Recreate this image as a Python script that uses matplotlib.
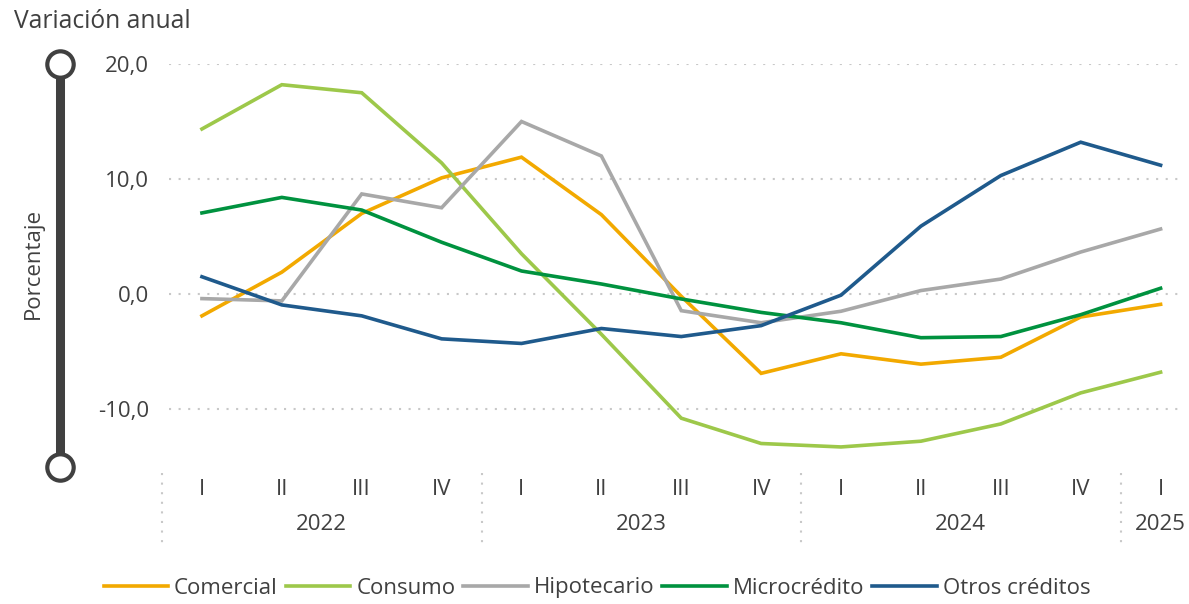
import matplotlib
matplotlib.use('Agg')
import matplotlib.pyplot as plt
from matplotlib.transforms import blended_transform_factory
from matplotlib.lines import Line2D

quarters = ['I', 'II', 'III', 'IV', 'I', 'II', 'III', 'IV', 'I', 'II', 'III', 'IV', 'I']
years = ['2022', '2023', '2024', '2025']
year_counts = [4, 4, 4, 1]

comercial = [-1.9, 1.9, 7.0, 10.1, 11.9, 6.9, -0.2, -6.9, -5.2, -6.1, -5.5, -2.0, -0.9]
consumo = [14.35, 18.2, 17.5, 11.4, 3.5, -3.5, -10.8, -13.0, -13.3, -12.8, -11.3, -8.6, -6.8]
hipotecario = [-0.4, -0.6, 8.7, 7.5, 15.0, 12.0, -1.45, -2.5, -1.5, 0.3, 1.3, 3.65, 5.65]
microcredito = [7.05, 8.4, 7.3, 4.5, 2.0, 0.87, -0.43, -1.6, -2.5, -3.8, -3.7, -1.8, 0.5]
otros = [1.5, -0.95, -1.9, -3.9, -4.3, -3.0, -3.7, -2.75, -0.1, 5.9, 10.3, 13.2, 11.2]

series_names = ['Comercial', 'Consumo', 'Hipotecario', 'Microcrédito', 'Otros créditos']
series_values = [comercial, consumo, hipotecario, microcredito, otros]
series_colors = ['#F2A900', '#9DC84A', '#A8A8A8', '#00923F', '#1F5A8C']

yticks = [20, 10, 0, -10]

TXT = '#404040'
plt.rcParams['font.family'] = ['Open Sans', 'DejaVu Sans']

W, H = 1189, 604
fig = plt.figure(figsize=(W / 100, H / 100), dpi=100)
ax_left, ax_right = 162, 1180
ax_top, ax_bottom = 64, 466.5
ax = fig.add_axes([ax_left / W, 1 - ax_bottom / H, (ax_right - ax_left) / W, (ax_bottom - ax_top) / H])

n = len(quarters)
x = list(range(n))
ax.set_xlim(-0.5, 12.243)
ax.set_ylim(-15, 20)

for yv in yticks:
    ax.axhline(yv, xmin=0.007, xmax=1, color='#C8C8C8', lw=1.5, ls=(0, (1, 3.6)), zorder=1)

for name, vals, col in zip(series_names, series_values, series_colors):
    ax.plot(x, vals, color=col, lw=2.6, label=name, solid_joinstyle='miter', zorder=3)

for s in ax.spines.values():
    s.set_visible(False)

ax.set_yticks(yticks)
ax.set_yticklabels([f'{v:.1f}'.replace('.', ',') for v in yticks])
ax.tick_params(axis='y', length=0, pad=9.5, labelsize=16, labelcolor=TXT)
ax.set_xticks(x)
ax.set_xticklabels(quarters)
ax.tick_params(axis='x', length=0, pad=9, labelsize=16, labelcolor=TXT)

# year labels and separators
trans = blended_transform_factory(ax.transData, ax.transAxes)
start = 0
sep_top = -(473 - ax_bottom) / (ax_bottom - ax_top)
sep_bot = -(545 - ax_bottom) / (ax_bottom - ax_top)
year_y = -(524.5 - ax_bottom) / (ax_bottom - ax_top)
for yr, cnt in zip(years, year_counts):
    ax.plot([start - 0.5, start - 0.5], [sep_top, sep_bot], transform=trans, clip_on=False,
            color='#C8C8C8', lw=1.5, ls=(0, (1, 3.6)))
    ax.text(start + (cnt - 1) / 2, year_y, yr, transform=trans, ha='center', va='center',
            fontsize=16, color=TXT)
    start += cnt

# decorative vertical axis bar
btrans = blended_transform_factory(fig.transFigure, ax.transData)
bx = 60 / W
ax.plot([bx, bx], [20, -15], transform=btrans, clip_on=False, color='#404040', lw=6.5,
        solid_capstyle='butt', zorder=4)
ax.plot([bx, bx], [20, -15], transform=btrans, clip_on=False, ls='none', marker='o',
        markersize=19, markerfacecolor='white', markeredgecolor='#404040', markeredgewidth=3,
        zorder=5)

fig.text(14 / W, 1 - 21 / H, 'Variación anual', ha='left', va='center', fontsize=17.7, color=TXT)
fig.text(33 / W, 1 - 263 / H, 'Porcentaje', ha='center', va='center', rotation=90,
         fontsize=16, color=TXT)

handles = [Line2D([0], [0], color=c, lw=2.6) for c in series_colors]
fig.legend(handles, series_names, loc='center', bbox_to_anchor=(597 / W, 1 - 588 / H), ncol=5,
           frameon=False, fontsize=16, handlelength=2.9, handletextpad=0.27,
           columnspacing=0.36, labelcolor=TXT, borderaxespad=0, borderpad=0)

fig.savefig('out.png', dpi=100)
